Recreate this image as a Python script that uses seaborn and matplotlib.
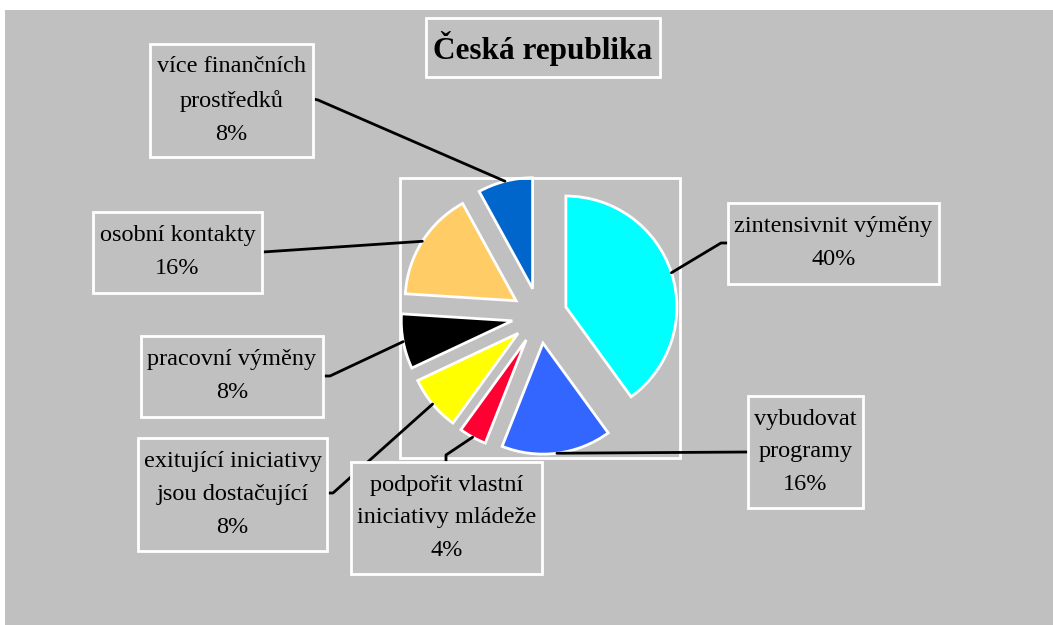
import numpy as np
import matplotlib.pyplot as plt
import seaborn as sns
from matplotlib.patches import Rectangle

# data, clockwise from 12 o'clock
categories = ["zintensivnit výměny", "vybudovat\nprogramy", "podpořit vlastní\niniciativy mládeže",
              "exitující iniciativy\njsou dostačující", "pracovní výměny", "osobní kontakty",
              "více finančních\nprostředků"]
shares = [40, 16, 4, 8, 8, 16, 8]
colors = ["#00FFFF", "#3366FF", "#FF0033", "#FFFF00", "#000000", "#FFCC66", "#0066CC"]
title = "Česká republika"

W, H = 1053, 625
BG = "#C0C0C0"

# label boxes (pixels: x0, y0, x1, y1) and leader line start points
boxes = [(728, 203, 939, 284), (748, 396, 863, 508), (351, 462, 542, 574),
         (138, 438, 327, 551), (141, 336, 323, 417), (93, 212, 262, 293),
         (150, 44, 313, 157)]
leader_start = [[(728, 243), (721, 243)], [(748, 452)], [(446, 462), (446, 455)],
                [(328, 493), (333, 493)], [(325, 376), (330, 376)], [(263, 252)],
                [(313, 99), (318, 100)]]

sns.set_style("white")
plt.rcParams["font.family"] = ["Liberation Serif", "DejaVu Serif"]
plt.rcParams["text.color"] = "black"


def fx(x):
    return x / W


def fy(y):
    return 1 - y / H


fig = plt.figure(figsize=(W / 100, H / 100), dpi=100)
fig.patch.set_facecolor("white")
fig.add_artist(Rectangle((fx(5), 0), 1 - fx(5), fy(10), transform=fig.transFigure,
                         facecolor=BG, edgecolor="none", zorder=0))

# pie
ax = fig.add_axes([fx(400), fy(458), (680 - 400) / W, (458 - 178) / H])
ax.set_facecolor("none")
wedges, _ = ax.pie(shares, colors=colors, startangle=90, counterclock=False,
                   explode=[0.25] * len(shares), radius=1,
                   wedgeprops=dict(edgecolor="white", linewidth=2))
ax.set_aspect("auto")
ax.set_xlim(-1.257, 1.266)
ax.set_ylim(-1.283, 1.24)
fig.add_artist(Rectangle((fx(400), fy(458)), (680 - 400) / W, (458 - 178) / H,
                         transform=fig.transFigure, facecolor="none", edgecolor="white",
                         linewidth=2, zorder=1))

to_fig = fig.transFigure.inverted()
for i, w in enumerate(wedges):
    mid = np.deg2rad((w.theta1 + w.theta2) / 2)
    cx, cy = w.center
    ax_pt = (cx + w.r * np.cos(mid), cy + w.r * np.sin(mid))
    end = to_fig.transform(ax.transData.transform(ax_pt))
    xs = [fx(p[0]) for p in leader_start[i]] + [end[0]]
    ys = [fy(p[1]) for p in leader_start[i]] + [end[1]]
    fig.add_artist(plt.Line2D(xs, ys, color="black", linewidth=2, zorder=3))

    x0, y0, x1, y1 = boxes[i]
    fig.add_artist(Rectangle((fx(x0), fy(y1)), (x1 - x0) / W, (y1 - y0) / H,
                             transform=fig.transFigure, facecolor=BG, edgecolor="white",
                             linewidth=2, zorder=4))
    fig.text(fx((x0 + x1) / 2), fy((y0 + y1) / 2), f"{categories[i]}\n{shares[i]}%",
             ha="center", va="center", multialignment="center", fontsize=17.5,
             linespacing=1.75, color="black", zorder=5)

# title box
fig.add_artist(Rectangle((fx(426), fy(77)), (660 - 426) / W, (77 - 18) / H,
                         transform=fig.transFigure, facecolor=BG, edgecolor="white",
                         linewidth=2, zorder=4))
fig.text(fx(543), fy(48), title, ha="center", va="center", fontsize=22.5,
         fontweight="bold", color="black", zorder=5)

fig.savefig("out.png", dpi=100, facecolor="white")
